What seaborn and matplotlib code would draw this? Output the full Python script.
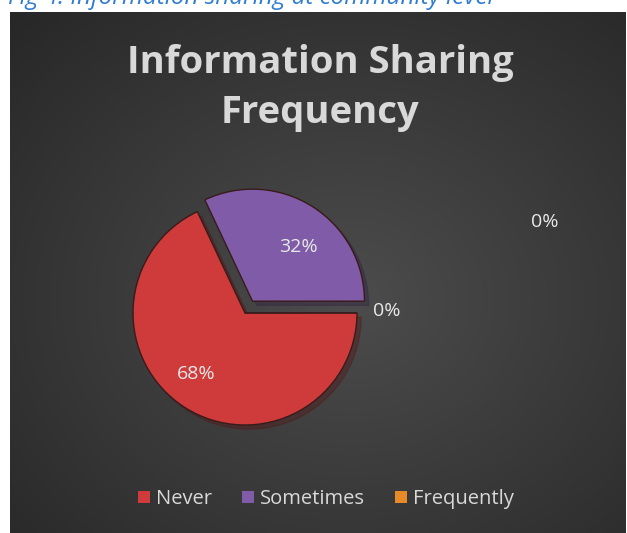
import numpy as np
import matplotlib
matplotlib.use("Agg")
import matplotlib.pyplot as plt
import seaborn as sns

sns.set_theme(style="white")
plt.rcParams['font.family'] = ['Open Sans', 'DejaVu Sans']

# ---- data ----
categories = ["Never", "Sometimes", "Frequently"]
values = [68, 32, 0]
colors = ["#cf3b3b", "#7f5ba8", "#e8892a"]
zero_labels = ["0%", "0%"]
title = "Information Sharing\nFrequency"
caption = "Fig 4: Information sharing at community level"

W, H = 627, 533
fig = plt.figure(figsize=(W / 100, H / 100), dpi=100)
fig.patch.set_facecolor("white")

# background with radial gradient
bg = fig.add_axes([10 / W, 0, (626 - 10) / W, (H - 12) / H])
bg.set_axis_off()
yy, xx = np.mgrid[0:1:300j, 0:1:300j]
r = np.sqrt(((xx - 0.55) / 0.9) ** 2 + ((yy - 0.55) / 0.9) ** 2)
g = np.clip(0.30 - 0.17 * r, 0.14, 0.31)
img = np.dstack([g, g, g])
bg.imshow(img, aspect="auto", extent=[0, 1, 0, 1], interpolation="bilinear")

# main axes in pixel coordinates
ax = fig.add_axes([0, 0, 1, 1], facecolor="none")

def autopct(p):
    return f"{p:.0f}%" if p > 0.5 else ""

wedges, texts, autotexts = ax.pie(
    values,
    colors=colors,
    startangle=0,
    counterclock=False,
    explode=[0, 14, 0],
    center=(245, H - 313),
    radius=112,
    autopct=autopct,
    pctdistance=0.68,
    wedgeprops=dict(edgecolor="#3a1a1a", linewidth=1.0),
    textprops=dict(color="#e8e8e8", fontsize=14),
    shadow=dict(ox=3, oy=-3, shade=0.6, alpha=0.4),
)
# nudge percentage labels to where the reference shows them
autotexts[0].set_position((196, H - 374))
autotexts[1].set_position((298, H - 247))
ax.set_xlim(0, W)
ax.set_ylim(0, H)
ax.set_aspect("equal")
ax.set_axis_off()

# zero-valued labels
ax.text(387, H - 311, zero_labels[0], color="#e8e8e8", fontsize=14, ha="center", va="center")
ax.text(545, H - 222, zero_labels[1], color="#e8e8e8", fontsize=14, ha="center", va="center")

# title
ax.text(320, H - 88, title, color="#d9d9d9", fontsize=27.5, fontweight="bold",
        ha="center", va="center", linespacing=1.42)

# caption (partially cut at top)
ax.text(8, H - 4, caption, color="#2f7cd0", fontsize=17.5, style="italic",
        ha="left", va="baseline")

# legend
handles = [plt.Rectangle((0, 0), 1, 1, facecolor=c, edgecolor="none") for c in colors]
leg = fig.legend(handles, categories, loc="center", bbox_to_anchor=(326 / W, 1 - 499 / H),
                 ncol=3, frameon=False, fontsize=14.5, handlelength=0.6, handleheight=0.6,
                 handletextpad=0.3, columnspacing=1.5, labelcolor="#d9d9d9")

fig.savefig("out.png", dpi=100, facecolor=fig.get_facecolor())
